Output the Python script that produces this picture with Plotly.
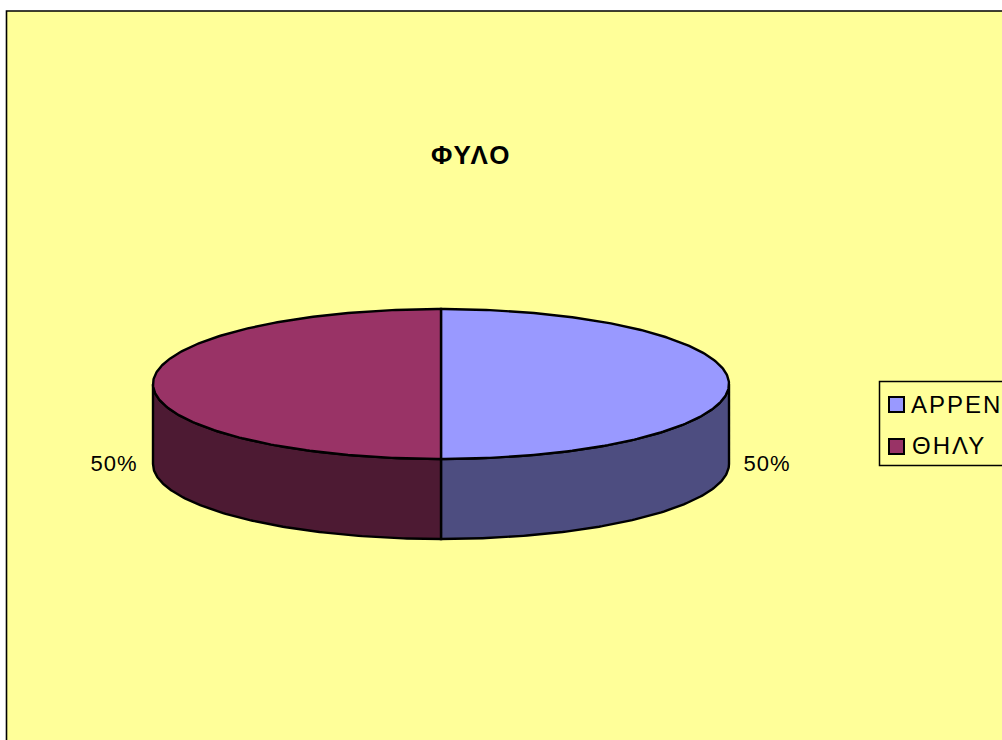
import numpy as np
import plotly.graph_objects as go

categories = ["ΑΡΡΕΝ", "ΘΗΛΥ"]
values = [50, 50]
title_text = "ΦΥΛΟ"
top_colors = ["#9999FF", "#993366"]
side_colors = ["#4D4D80", "#4D1A33"]

W, H = 1002, 740
CX, CY, RX, RY, DEPTH = 441, 384, 288, 75, 80
FONT = "Liberation Sans, Arial, sans-serif"
INK = "#000000"


def pt(theta, dy=0.0):
    return CX + RX * np.sin(theta), CY - RY * np.cos(theta) + dy


fracs = np.cumsum([0] + values) / sum(values) * 2 * np.pi
fig = go.Figure()

# side walls (only the front half of the pie is visible)
for i, name in enumerate(categories):
    a = max(fracs[i], np.pi / 2)
    b = min(fracs[i + 1], 3 * np.pi / 2)
    if b <= a:
        continue
    t = np.linspace(a, b, 120)
    x1, y1 = pt(t)
    x2, y2 = pt(t[::-1], DEPTH)
    fig.add_trace(go.Scatter(
        x=np.r_[x1, x2, x1[0]], y=np.r_[y1, y2, y1[0]],
        mode="lines", fill="toself", fillcolor=side_colors[i],
        line=dict(color=INK, width=2.4), showlegend=False, hoverinfo="skip"))

# top slices
for i, name in enumerate(categories):
    t = np.linspace(fracs[i], fracs[i + 1], 240)
    x, y = pt(t)
    fig.add_trace(go.Scatter(
        x=np.r_[CX, x, CX], y=np.r_[CY, y, CY],
        mode="lines", fill="toself", fillcolor=top_colors[i],
        line=dict(color=INK, width=2.4), name=name, showlegend=False,
        hoverinfo="name"))

# data labels
shares = [v / sum(values) for v in values]
label_pos = [(767, 463), (113.5, 463)]
annotations = [
    dict(x=label_pos[i][0], y=label_pos[i][1], text=f"{shares[i]:.0%}", showarrow=False,
         xanchor="center", yanchor="middle", font=dict(family=FONT, size=22, color=INK))
    for i in range(len(values))
]
annotations.append(dict(x=471, y=155, text=f"<b>{title_text}</b>", showarrow=False,
                        xanchor="center", yanchor="middle",
                        font=dict(family=FONT, size=26, color=INK)))

# frame and legend
shapes = [
    dict(type="rect", x0=6.5, y0=11, x1=1040, y1=800, fillcolor="#FFFF99",
         line=dict(color="#000000", width=1.6), layer="below"),
    dict(type="rect", x0=879.5, y0=381.5, x1=1040, y1=465.5, fillcolor="#FFFF99",
         line=dict(color="#000000", width=1.5), layer="below"),
]
legend_rows = [404, 446]
for i, name in enumerate(categories):
    yc = legend_rows[i]
    shapes.append(dict(type="rect", x0=889, x1=904, y0=yc - 7, y1=yc + 8,
                       fillcolor=top_colors[i], line=dict(color="#000000", width=2)))
    annotations.append(dict(x=914, y=yc - (1 if i else 0), text=name, showarrow=False, xanchor="left",
                            yanchor="middle", font=dict(family=FONT, size=24, color=INK)))

fig.update_layout(
    width=W, height=H, margin=dict(l=0, r=0, t=0, b=0),
    paper_bgcolor="#FFFFFF", plot_bgcolor="#FFFFFF",
    xaxis=dict(range=[0, W], visible=False, fixedrange=True),
    yaxis=dict(range=[H, 0], visible=False, fixedrange=True),
    shapes=shapes, annotations=annotations, showlegend=False,
)
fig.write_html("out.html", config={"displayModeBar": False},
               post_script="document.body.style.margin='0';document.body.style.overflow='hidden';"
                           "document.querySelectorAll('.annotation-text').forEach(function(t){"
                           "t.style.letterSpacing=(t.textContent.indexOf('%')>=0?'1px':'2px');});")
